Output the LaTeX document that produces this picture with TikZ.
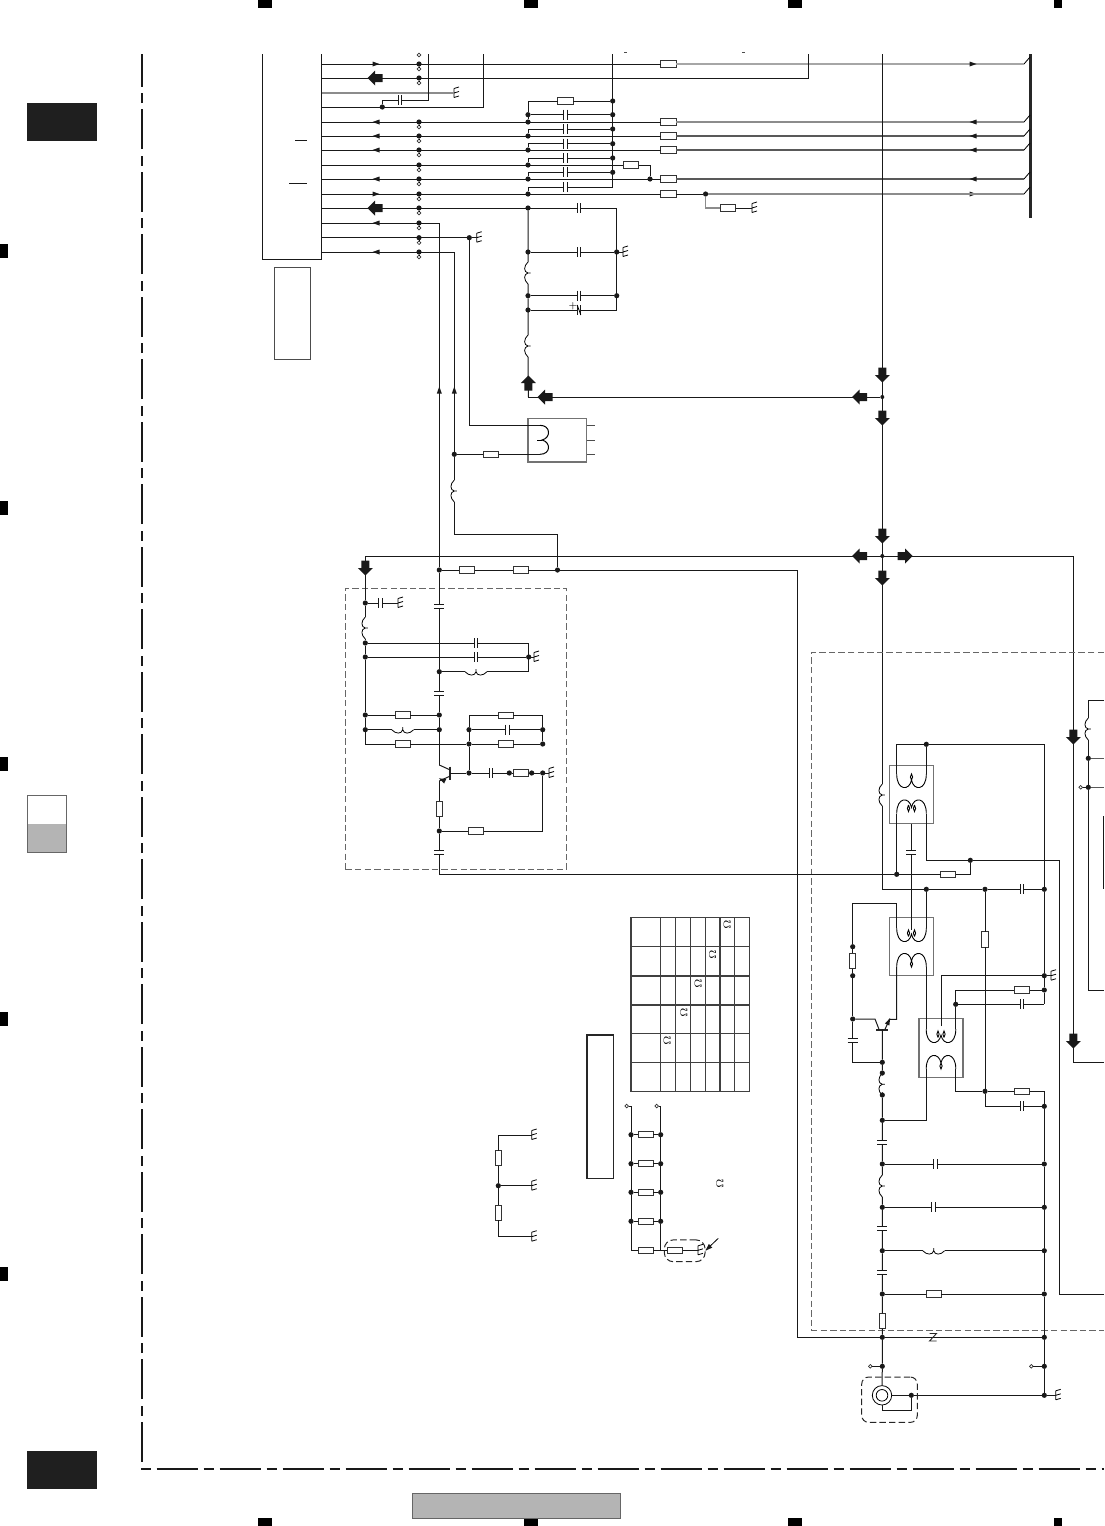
\documentclass[tikz,border=0pt]{standalone}
\definecolor{tabgray}{HTML}{B4B4B4}
\tikzset{
  wire/.style = {line width=0.5pt, black!90},
  paleA/.style = {line width=1pt, black!35},
  paleB/.style = {line width=0.7pt, black!45},
  paleC/.style = {line width=0.55pt, black!65},
  junc/.style = {circle, fill=black!90, inner sep=0, outer sep=0, minimum size=2.6pt},
  hole/.style = {circle, draw=black!80, fill=white, line width=0.35pt, inner sep=0, outer sep=0, minimum size=1.8pt},
  rbox/.style = {rectangle, draw=black!80, fill=white, line width=0.45pt, inner sep=0, outer sep=0, minimum width=7.6pt, minimum height=3.2pt},
  rboxv/.style = {rbox, minimum width=3.2pt, minimum height=7.6pt},
  capx/.style = {rectangle, inner sep=0, outer sep=0, minimum width=1.8pt, minimum height=5pt,
    append after command={(\tikzlastnode.north west) edge[wire] (\tikzlastnode.south west)
      (\tikzlastnode.north east) edge[wire] (\tikzlastnode.south east)}},
  capy/.style = {rectangle, inner sep=0, outer sep=0, minimum width=5pt, minimum height=1.8pt,
    append after command={(\tikzlastnode.north west) edge[wire] (\tikzlastnode.north east)
      (\tikzlastnode.south west) edge[wire] (\tikzlastnode.south east)}},
  indy/.style = {rectangle, inner sep=0, outer sep=0, minimum width=6pt, minimum height=11pt,
    path picture={\begin{scope}[shift={(path picture bounding box.center)}]
      \draw[line width=0.4pt] (0,-11) .. controls (-4.5,-7) and (-4.5,-1) .. (0,0) .. controls (-4.5,1) and (-4.5,7) .. (0,11) (-1,0) -- (2.5,0);
    \end{scope}}},
  indx/.style = {rectangle, inner sep=0, outer sep=0, minimum width=11pt, minimum height=6pt,
    path picture={\begin{scope}[shift={(path picture bounding box.center)}]
      \draw[line width=0.4pt] (-11,0) .. controls (-7,4.5) and (-1,4.5) .. (0,0) .. controls (1,4.5) and (7,4.5) .. (11,0) (0,1) -- (0,-2.5);
    \end{scope}}},
  tbox/.style = {rectangle, draw=black!55, line width=0.6pt, inner sep=0, outer sep=0, minimum width=22pt, minimum height=29.2pt},
  dbox/.style = {rectangle, draw=black!60, line width=0.5pt, dash pattern=on 3.2pt off 1.6pt, inner sep=0, outer sep=0},
  ohm/.style = {inner sep=0, outer sep=0, font=\fontsize{4.5}{5}\selectfont},
  gnd/.pic = {\draw[line width=0.4pt] (0,-4.5) -- (0,4.5) (0,-4.5) -- (5,-6) (0,0) -- (5,-1.5) (0,4.5) -- (5,3);},
  tip/.pic = {\fill[black!90] (3.5,0) -- (-3.5,-2.5) -- (-3.5,2.5) -- cycle;},
  bigarr/.pic = {\fill[black!90] (7.5,0) -- (0,7.5) -- (0,4) -- (-7.5,4) -- (-7.5,-4) -- (0,-4) -- (0,-7.5) -- cycle;},
  coila/.pic = {\draw[line width=0.45pt] (-14.8,0) .. controls (-14.8,17) and (-2,17) .. (0,6) .. controls (2,17) and (14.8,17) .. (14.8,0)
    (0,6) .. controls (-1.5,4) and (-1.5,2) .. (0,0) .. controls (1.5,2) and (1.5,4) .. (0,6);},
  coilb/.pic = {\draw[line width=0.45pt] (-14.8,0) .. controls (-14.8,17) and (-2,17) .. (0,6) .. controls (2,17) and (14.8,17) .. (14.8,0)
    (-3,8.5) .. controls (-4.5,6) and (-4.5,4) .. (-3,2) .. controls (-1.5,4) and (-1.5,6) .. (-3,8.5)
    (3,8.5) .. controls (1.5,6) and (1.5,4) .. (3,2) .. controls (4.5,4) and (4.5,6) .. (3,8.5);},
}
\begin{document}
\begin{tikzpicture}[x=0.5pt,y=-0.5pt]
    \useasboundingbox (0,0) rectangle (1104,1526);

    % page furniture
    \foreach \x/\w in {258/14,524/14,788/14,1054/8}{
        \fill (\x,0) rectangle +(\w,8);
        \fill (\x,1518) rectangle +(\w,8);
    }
    \foreach \y in {244,501,757,1012,1267}{
        \fill (0,\y) rectangle +(8,14);
    }
    \fill[black!88] (27,103) rectangle (97,141);
    \fill[black!88] (27,1451) rectangle (97,1489);
    \fill[tabgray] (27,824) rectangle (66,852);
    \draw[black!60, line width=0.5pt] (27,795) rectangle (66,852);
    \draw[black!60, fill=tabgray, line width=0.5pt] (412,1493) rectangle (620,1518);
    \draw[line width=0.8pt, black!90, dash pattern=on 20pt off 3pt on 5pt off 3.25pt] (142,1461.7) -- (142,54);
    \draw[line width=0.8pt, black!90, dash pattern=on 20.5pt off 3pt on 5pt off 3pt] (156.7,1469) -- (1104,1469);
    \draw[line width=0.8pt, black!90] (141,1469) -- (151,1469);

    % connector block
    \draw[wire] (262.5,54) -- (262.5,259.5) -- (321.5,259.5) -- (321.5,54);
    \draw[wire, black!70] (274.5,267.7) rectangle (310.7,359.3);
    \draw[wire] (295,140) -- (307,140);
    \draw[wire] (289,183) -- (307,183);
    \draw[line width=1.5pt, black!85] (1030,54) -- (1030,218);
    \node[hole] (htop) at (419,55) {};
    \fill[black!70] (624,52) rectangle +(3,1);
    \fill[black!70] (742,52) rectangle +(3,1);

    % signal rows
    \foreach \n/\y in {a/64,b/78,e/122,f/136,g/150,h/165,i/179,j/194,k/208,l/223,m/237.7,n/252}{
        \node[junc] (j\n) at (419,\y) {};
        \node[hole] (h\n) at (419,\y+5) {};
        \draw[line width=0.4pt] (j\n) -- (h\n);
    }
    \foreach \n/\y in {a/64,b/78,c/93,d/107,e/122,f/136,g/150,h/165,i/179,j/194,k/208,l/223,m/237.7,n/252}{
        \coordinate (s\n) at (321.5,\y);
    }
    \foreach \n/\y in {a/64,e/122,f/136,g/150,i/179,j/194}{
        \node[rbox] (r\n) at (668.5,\y) {};
        \coordinate (q\n) at (1024,\y);
        \coordinate (b\n) at (1030,\y-7);
        \draw[wire] (s\n) -- (r\n);
        \draw[line width=0.4pt] (q\n) -- (b\n);
    }
    \draw[paleA] (ra) -- (qa);
    \draw[paleB] (re) -- (qe);
    \draw[paleC] (rf) -- (qf);
    \draw[paleC] (rg) -- (qg);
    \draw[paleC] (ri) -- (qi);

    \foreach \x/\y/\a in {376/64/0,376/122/180,376/136/180,376/150/180,376/179/180,376/194/0,376/223/180,376/252/180,
        973/64/0,973/122/180,973/136/180,973/150/180,973/179/180,973/194/0,439.3/390/90,454.3/390/90}{
        \pic[rotate=\a] at (\x,\y) {tip};
    }

    % grounds
    \foreach \n/\x/\y in {1/454/93,2/476.7/237.7,3/752/208,4/623/252,5/398/603,6/534/657,7/549/773,8/1051/975.7,9/1055.7/1395.3,
        10/531.7/1135,11/531.7/1185.7,12/531.7/1236.7,13/698/1250.3}{
        \coordinate (g\n) at (\x,\y);
        \pic at (g\n) {gnd};
    }

    % rows b, c, d
    \coordinate (bc) at (808,78);
    \coordinate (bt) at (808,54);
    \draw[wire] (sb) -- (bc) -- (bt);
    \draw[paleB] (sc) -- (g1);
    \node[junc] (dd) at (382.3,107) {};
    \node[capx] (cd) at (400,100.3) {};
    \coordinate (de) at (483,107);
    \coordinate (dt) at (483,54);
    \coordinate (dc) at (428.3,100.3);
    \coordinate (du) at (428.3,54);
    \draw[wire] (sd) -- (de) -- (dt);
    \draw[wire] (dd) |- (cd);
    \draw[wire] (cd) -- (dc) -- (du);

    % rows h and j extras
    \node[rbox] (rh) at (631,165) {};
    \node[junc] (jhi) at (650,179) {};
    \draw[wire] (sh) -- (rh);
    \draw[wire] (rh) -| (jhi);
    \node[junc] (jj2) at (705.6,194) {};
    \node[rbox] (rj2) at (728,208) {};
    \draw[wire] (rj) -- (jj2);
    \draw[paleB] (jj2) -- (qj);
    \draw[paleB] (jj2) |- (rj2);
    \draw[wire] (rj2) -- (g3);

    % capacitor ladder
    \coordinate (lt) at (612.7,54);
    \coordinate (lb) at (612.7,187);
    \coordinate (ltl) at (528,101);
    \node[rbox] (r0) at (565.5,101) {};
    \node[junc] (rr0) at (612.7,101) {};
    \node[capx] (c0) at (565.5,114.7) {};
    \node[junc] (lc0) at (528,114.7) {};
    \node[junc] (rc0) at (612.7,114.7) {};
    \node[junc] (le) at (528,122) {};
    \draw[wire] (le) -- (lc0) -- (ltl) -- (r0) -- (rr0);
    \draw[wire] (lc0) -- (c0) -- (rc0);
    \draw[wire] (lt) -- (lb);
    \foreach \n/\y/\c in {f/136/129,g/150/143.7,h/165/158,i/179/172.3}{
        \node[junc] (l\n) at (528,\y) {};
        \node[capx] (c\n) at (565.5,\c) {};
        \node[junc] (rc\n) at (612.7,\c) {};
        \draw[wire] (l\n) |- (c\n);
        \draw[wire] (c\n) -- (rc\n);
    }
    \node[junc] (lj) at (528,194) {};
    \node[capx] (cj) at (565.5,187) {};
    \draw[wire] (lj) |- (cj);
    \draw[wire] (cj) -- (lb);

    % filter below the ladder
    \node[junc] (lk) at (528,208) {};
    \node[capx] (ck) at (579,208) {};
    \coordinate (ke) at (616.7,208);
    \node[junc] (l252) at (528,252) {};
    \node[capx] (c252) at (579,252) {};
    \node[junc] (r252) at (616.7,252) {};
    \node[indy] (l1) at (528,273) {};
    \node[junc] (l296) at (528,295.7) {};
    \node[capx] (c296) at (579,295.7) {};
    \node[junc] (r296) at (616.7,295.7) {};
    \node[junc] (l310) at (528,310) {};
    \node[capx] (c310) at (579,310) {};
    \coordinate (r310) at (616.7,310);
    \node[indy] (l2) at (528,346) {};
    \coordinate (lc) at (528.3,397);
    \node[ohm] (plus) at (573,306) {+};
    \draw[line width=0.4pt] (c310.north west) -- (c310.south east);
    \draw[wire] (sk) -- (ck);
    \draw[wire] (ck) -- (ke) -- (r310) -- (c310);
    \draw[wire] (l310) -- (c310);
    \draw[wire] (l252) -- (c252) -- (r252) -- (g4);
    \draw[wire] (l296) -- (c296) -- (r296);
    \draw[wire] (lk) -- (l1) -- (l296) -- (l2) -- (lc);

    % main supply column
    \coordinate (mt) at (882.3,54);
    \node[junc, minimum size=2pt] (m397) at (882.3,397) {};
    \node[junc, minimum size=2pt] (m556) at (882.3,556) {};
    \node[indy] (m795) at (882.3,795) {};
    \coordinate (m889) at (882.3,889.3);
    \draw[wire] (mt) -- (m397) -- (m556) -- (m795) -- (m889);
    \draw[wire] (lc) -- (m397);
    \coordinate (w556) at (365.3,556);
    \coordinate (e556) at (1073.3,556);
    \coordinate (e1062) at (1073.3,1062.3);
    \coordinate (x1062) at (1104,1062.3);
    \draw[wire] (w556) -- (e556) -- (e1062) -- (x1062);
    \foreach \x/\y/\a in {882.3/375/-90,882.3/418/-90,882.3/536/-90,882.3/578/-90,859.5/397/180,859.5/556/180,
        905/556/0,545/397/180,528.3/383/90,365.3/568/-90,375/78/180,375/208/180,1073.3/737/-90,1073.3/1041/-90}{
        \pic[rotate=\a] at (\x,\y) {bigarr};
    }

    % rows l, m, n running down
    \coordinate (cl) at (439.3,223);
    \node[junc] (j570) at (439.3,570) {};
    \draw[wire] (sl) -- (cl) -- (j570);
    \node[junc] (jm) at (469.3,237.7) {};
    \draw[wire] (sm) -- (jm) -- (g2);
    \node[tbox, minimum width=29.4pt, minimum height=21.7pt] (t0) at (557.3,440.3) {};
    \coordinate (t0a) at (469.3,425.3);
    \coordinate (t0b) at (540,425.3);
    \coordinate (t0c) at (540,454.3);
    \draw[wire] (jm) -- (t0a) -- (t0b);
    \coordinate (cn) at (454.3,252);
    \node[junc] (jn) at (454.3,454.3) {};
    \node[rbox] (rn) at (491,454.3) {};
    \node[indy] (ln) at (454.3,491) {};
    \coordinate (n533) at (454.3,534);
    \node[junc] (j557) at (557.5,570) {};
    \draw[wire] (sn) -- (cn) -- (jn) -- (ln) -- (n533);
    \draw[wire] (n533) -| (j557);
    \draw[wire] (jn) -- (rn) -- (t0c);
    \draw[line width=0.5pt] (t0b) .. controls (551,425.3) and (551,438) .. (542,440) .. controls (551,442) and (551,454.3) .. (t0c);
    \draw[line width=0.4pt] (537,440) -- (542,440);
    \foreach \y in {425.7,440,454.7}{
        \draw[line width=0.4pt, black!70] (586.7,\y) -- (595,\y);
    }

    % line y=570
    \node[rbox] (r570a) at (467,570) {};
    \node[rbox] (r570b) at (520.7,570) {};
    \coordinate (c570) at (797.3,570);
    \coordinate (c1337) at (797.3,1337.3);
    \draw[wire] (j570) -- (r570a) -- (r570b) -- (j557) -- (c570) -- (c1337);

    % amplifier stage, dashed block
    \node[dbox, minimum width=110.7pt, minimum height=140.4pt] (blk1) at (456,728.7) {};
    \node[junc] (a603) at (365.3,603) {};
    \node[capx] (ca603) at (380.7,603) {};
    \node[indy] (la) at (365.3,628) {};
    \node[junc] (a643) at (365.3,643) {};
    \node[junc] (a657) at (365.3,657) {};
    \node[junc] (a715) at (365.3,715) {};
    \node[junc] (a730) at (365.3,729.7) {};
    \coordinate (a744) at (365.3,744);
    \draw[wire] (w556) -- (a603) -- (la) -- (a643) -- (a657) -- (a715) -- (a730) -- (a744);
    \draw[wire] (a603) -- (ca603) -- (g5);
    \node[capx] (c643) at (476,643) {};
    \node[capx] (c657) at (476,657) {};
    \node[indx] (l672) at (476,671.7) {};
    \coordinate (b643) at (528.7,643);
    \node[junc] (b657) at (528.7,657) {};
    \coordinate (b672) at (528.7,671.7);
    \node[capy] (c607) at (439.3,606.7) {};
    \node[junc] (b1) at (439.3,671.7) {};
    \node[capy] (c693) at (439.3,693.3) {};
    \node[junc] (b2) at (439.3,715) {};
    \node[junc] (b3) at (439.3,729.7) {};
    \coordinate (qc) at (439.3,765);
    \draw[wire] (j570) -- (c607) -- (b1) -- (c693) -- (b2) -- (b3) -- (qc);
    \draw[wire] (a643) -- (c643) -- (b643) -- (b672) -- (l672) -- (b1);
    \draw[wire] (a657) -- (c657) -- (b657) -- (g6);
    \node[rbox] (r715) at (402.7,715) {};
    \node[indx] (l730) at (402.7,729.7) {};
    \node[rbox] (r744) at (402.7,744) {};
    \draw[wire] (a715) -- (r715) -- (b2);
    \draw[wire] (a730) -- (l730) -- (b3);
    \node[junc] (d715) at (469,729.7) {};
    \node[capx] (c730) at (507.7,729.7) {};
    \node[junc] (e730) at (542.7,729.7) {};
    \node[junc] (d744) at (469,744) {};
    \node[junc] (e744) at (542.7,744) {};
    \node[rbox] (r744b) at (505.7,744) {};
    \node[rbox] (r716) at (505.7,715.3) {};
    \coordinate (d716) at (469,715.3);
    \coordinate (e716) at (542.7,715.3);
    \draw[wire] (a744) -- (r744) -- (d744) -- (r744b) -- (e744);
    \draw[wire] (d715) -- (c730) -- (e730);
    \draw[wire] (r716) -- (d716) -- (d715) -- (d744);
    \draw[wire] (r716) -- (e716) -- (e730) -- (e744);
    \node[junc] (d773) at (469,773) {};
    \node[capx] (c773) at (491,773) {};
    \node[junc] (f1) at (509.3,773) {};
    \node[rbox] (r773) at (521,773) {};
    \node[junc] (f2) at (531.7,773) {};
    \node[junc] (e773) at (542.7,773) {};
    \coordinate (qb) at (450.3,773);
    \coordinate (qe) at (439.3,781);
    \coordinate (qe2) at (450.3,776);
    \coordinate (qc2) at (450.3,770);
    \draw[line width=1pt, black!85] (450.3,766.7) -- (450.3,780);
    \draw[wire] (qc) -- (qc2);
    \draw[wire] (qb) -- (d773) -- (d744);
    \draw[wire] (d773) -- (c773) -- (f1) -- (r773) -- (f2) -- (e773) -- (g7);
    \draw[wire] (qe2) -- (qe);
    \pic[rotate=155] at (442,779.8) {tip};
    \node[rboxv] (r809) at (439.3,809) {};
    \node[junc] (b831) at (439.3,831) {};
    \node[rbox] (r831) at (476,831) {};
    \coordinate (e831) at (542.7,831);
    \node[capy] (c852) at (439.3,852.3) {};
    \coordinate (b874) at (439.3,874.3);
    \draw[wire] (qe) -- (r809) -- (b831) -- (c852) -- (b874);
    \draw[wire] (b831) -- (r831) -- (e831) -- (e773);

    % transformer stage, dashed block
    \coordinate (blkA) at (1104,652);
    \coordinate (blkB) at (811.7,652);
    \coordinate (blkC) at (811.7,1330);
    \coordinate (blkD) at (1104,1330);
    \draw[line width=0.5pt, black!60, dash pattern=on 3.2pt off 1.6pt] (blkA) -- (blkB) -- (blkC) -- (blkD);
    \node[tbox] (t1) at (911.3,794.5) {};
    \node[tbox] (t2) at (911.3,946.5) {};
    \node[tbox] (t3) at (940.9,1048) {};
    \pic at (911.5,774) {coila};
    \pic[yscale=-1] at (911.5,813.5) {coilb};
    \pic at (911.5,928) {coilb};
    \pic[yscale=-1] at (911.5,967) {coila};
    \pic at (941,1029) {coilb};
    \pic[yscale=-1] at (941,1069) {coila};
    \coordinate (t1ul) at (896.7,774);
    \coordinate (t1ur) at (926.3,774);
    \coordinate (t1ll) at (896.7,813.5);
    \coordinate (t1lr) at (926.3,813.5);
    \coordinate (t2ul) at (896.7,928);
    \coordinate (t2ur) at (926.3,928);
    \coordinate (t2um) at (911.3,930);
    \coordinate (t2ll) at (896.7,967);
    \coordinate (t2lr) at (926.3,967);
    \coordinate (t3ul) at (926.3,1029);
    \coordinate (t3ur) at (955.7,1029);
    \coordinate (t3um) at (941,1026);
    \coordinate (t3ll) at (926.3,1069);
    \coordinate (t3lr) at (955.7,1069);

    \coordinate (n744) at (896.7,744.3);
    \node[junc] (j744) at (926.3,744.3) {};
    \coordinate (p744) at (1044.3,744.3);
    \node[junc] (p889) at (1044.3,889.3) {};
    \node[junc] (p976) at (1044.3,975.7) {};
    \node[junc] (p990) at (1044.3,990) {};
    \coordinate (p1004) at (1044.3,1004.3);
    \draw[wire] (t1ul) -- (n744) -- (j744) -- (p744) -- (p889) -- (p976) -- (p990) -- (p1004);
    \draw[wire] (t1ur) -- (j744);
    \node[junc] (j874) at (896.7,874.3) {};
    \node[rbox] (r874) at (948.3,874.3) {};
    \node[junc] (j970) at (970.3,860.3) {};
    \coordinate (j970b) at (970.3,874.3);
    \coordinate (c860) at (926.3,860.3);
    \coordinate (e860) at (1059.7,860.3);
    \coordinate (e1294) at (1059.7,1294.3);
    \coordinate (x1294) at (1104,1294.3);
    \draw[wire] (t1ll) -- (j874);
    \draw[wire] (t1lr) -- (c860) -- (j970) -- (e860) -- (e1294) -- (x1294);
    \draw[wire] (j970) -- (j970b) -- (r874) -- (j874) -- (b874);
    \node[capy] (c852b) at (911.3,852.3) {};
    \draw[wire] (t1.south) -- (c852b) -- (t2um);

    \node[junc] (k926) at (926.3,889.3) {};
    \node[junc] (k985) at (985,889.3) {};
    \node[capx] (c889) at (1022,889.3) {};
    \draw[wire] (m889) -- (k926) -- (k985) -- (c889) -- (p889);
    \draw[wire] (t2ur) -- (k926);
    \coordinate (u903) at (896.7,903.3);
    \coordinate (v903) at (852.7,903.3);
    \node[junc] (v947) at (852.7,946.7) {};
    \node[rboxv] (r961) at (852.7,961) {};
    \node[junc] (v976) at (852.7,975.7) {};
    \node[junc] (v1019) at (852.7,1019) {};
    \node[capy] (c1041) at (852.7,1040.7) {};
    \coordinate (v1062) at (852.7,1062.3);
    \node[junc] (w1062) at (882.3,1062.3) {};
    \draw[wire] (t2ul) -- (u903) -- (v903) -- (v947) -- (r961) -- (v976) -- (v1019) -- (c1041) -- (v1062) -- (w1062);

    % output transistor
    \coordinate (q2c) at (875,1019);
    \coordinate (q2c2) at (879,1029.3);
    \coordinate (q2e) at (885,1029.3);
    \coordinate (q2e2) at (889.5,1019.3);
    \coordinate (q2b) at (882.3,1029.3);
    \coordinate (u1019) at (896.7,1019.3);
    \draw[line width=1pt, black!85] (876,1029.6) -- (888.3,1029.6);
    \draw[wire] (v1019) -- (q2c) -- (q2c2);
    \draw[wire] (q2e) -- (q2e2) -- (u1019) -- (t2ll);
    \pic[rotate=65] at (888.6,1021.3) {tip};

    \draw[wire] (t2lr) -- (t3ul);
    \coordinate (n976) at (941,975.7);
    \draw[wire] (t3um) -- (n976) -- (p976) -- (g8);
    \coordinate (n990) at (955.7,990);
    \node[junc] (n1004) at (955.7,1004.3) {};
    \node[rbox] (r990) at (1022,990) {};
    \node[capx] (c1004) at (1022,1004.3) {};
    \draw[wire] (t3ur) -- (n1004) -- (n990) -- (r990) -- (p990);
    \draw[wire] (n1004) -- (c1004) -- (p1004);
    \coordinate (n1091) at (955.7,1091.3);
    \node[junc] (k1091) at (985,1091.3) {};
    \node[rbox] (r1091) at (1022,1091.3) {};
    \coordinate (p1091) at (1044.3,1091.3);
    \node[rboxv] (r939) at (985,939.5) {};
    \coordinate (k1106) at (985,1106.3);
    \node[capx] (c1106) at (1022,1106.3) {};
    \node[junc] (p1106) at (1044.3,1106.3) {};
    \draw[wire] (t3lr) -- (n1091) -- (k1091) -- (r1091) -- (p1091) -- (p1106);
    \draw[wire] (k985) -- (r939) -- (k1091) -- (k1106) -- (c1106) -- (p1106);
    \coordinate (n1120) at (926.3,1120.3);
    \node[junc] (w1120) at (882.3,1120.3) {};
    \draw[wire] (t3ll) -- (n1120) -- (w1120);

    % ladder to the jack
    \node[junc] (w1073) at (882.3,1073) {};
    \node[indy, minimum height=9pt] (l1085) at (882.3,1084.3) {};
    \node[junc] (w1095) at (882.3,1095) {};
    \node[capy] (c1142) at (882.3,1142.3) {};
    \node[junc] (w1164) at (882.3,1164) {};
    \node[indy] (l1186) at (882.3,1186) {};
    \node[junc] (w1207) at (882.3,1207.3) {};
    \node[capy] (c1228) at (882.3,1228.3) {};
    \node[junc] (w1251) at (882.3,1250.7) {};
    \node[capy] (c1272) at (882.3,1272.3) {};
    \node[junc] (w1294) at (882.3,1294) {};
    \node[rboxv] (r1321) at (882.3,1321) {};
    \node[junc] (w1337) at (882.3,1337.3) {};
    \node[junc] (w1366) at (882.3,1366.3) {};
    \node[hole] (h1366) at (870.3,1366.3) {};
    \node[circle, draw, line width=0.4pt, inner sep=0, outer sep=0, minimum size=9.7pt] (jack) at (882,1395.3) {};
    \node[circle, draw, line width=0.4pt, inner sep=0, outer sep=0, minimum size=5.8pt] (jackin) at (882,1395.3) {};
    \draw[wire] (q2b) -- (w1062) -- (w1073) -- (l1085) -- (w1095) -- (w1120) -- (c1142) -- (w1164) -- (l1186) -- (w1207) -- (c1228) -- (w1251) -- (c1272) -- (w1294) -- (r1321) -- (w1337) -- (w1366) -- (jack);
    \draw[wire] (w1366) -- (h1366);
    \node[junc] (p1164) at (1044.3,1164) {};
    \node[junc] (p1207) at (1044.3,1207.3) {};
    \node[junc] (p1251) at (1044.3,1250.7) {};
    \node[junc] (p1294) at (1044.3,1294) {};
    \node[junc] (p1337) at (1044.3,1337.3) {};
    \node[junc] (p1366) at (1044.3,1366.3) {};
    \node[junc] (p1395) at (1044.3,1395.3) {};
    \node[hole] (h1366b) at (1031.3,1366.3) {};
    \node[capx] (c1164) at (935.3,1164) {};
    \node[capx] (c1207) at (933.7,1207.3) {};
    \node[indx] (l1251) at (933.7,1250.7) {};
    \node[rbox] (r1294) at (933.7,1294) {};
    \draw[wire] (w1164) -- (c1164) -- (p1164);
    \draw[wire] (w1207) -- (c1207) -- (p1207);
    \draw[wire] (w1251) -- (l1251) -- (p1251);
    \draw[wire] (w1294) -- (r1294) -- (p1294);
    \draw[wire] (c1337) -- (w1337) -- (p1337);
    \draw[line width=0.45pt, black!85] (929.5,1333.5) -- (936.5,1333.5) -- (929.5,1341) -- (936.5,1341);
    \draw[wire] (p1106) -- (p1164) -- (p1207) -- (p1251) -- (p1294) -- (p1337) -- (p1366) -- (p1395) -- (g9);
    \draw[wire] (p1366) -- (h1366b);
    \node[junc] (j911) at (911.3,1395.3) {};
    \coordinate (jb) at (882,1410.7);
    \coordinate (jc) at (911.3,1410.7);
    \draw[wire] (jack) -- (j911) -- (p1395);
    \draw[wire] (jack) -- (jb) -- (jc) -- (j911);
    \node[dbox, draw=black!85, rounded corners=3.5pt, minimum width=27.8pt, minimum height=22.7pt] (jackbox) at (889.5,1399.7) {};

    % right edge
    \coordinate (y700) at (1088.3,700);
    \coordinate (x700) at (1104,700);
    \node[indy] (l729) at (1088.3,729) {};
    \node[junc] (y758) at (1088.3,758.3) {};
    \node[junc] (y787) at (1088.3,787.3) {};
    \node[hole] (h787) at (1080.7,787.3) {};
    \coordinate (y990) at (1088.3,990.5);
    \coordinate (x990) at (1104,990.5);
    \coordinate (x758) at (1104,758.3);
    \coordinate (x787) at (1104,787.3);
    \draw[wire] (x700) -- (y700) -- (l729) -- (y758) -- (y787) -- (y990) -- (x990);
    \draw[paleC] (y758) -- (x758);
    \draw[paleC] (y787) -- (x787);
    \draw[wire] (y787) -- (h787);
    \draw[wire] (1103.3,816) -- (1103.3,889.3);

    % value table
    \draw[line width=0.55pt, black!75] (631,917.7) rectangle (749.3,1091.3);
    \foreach \x in {660.7,675.3,690.3,705.3,720,734.7}{
        \draw[line width=0.55pt, black!75] (\x,917.7) -- (\x,1091.3);
    }
    \foreach \y in {946.7,976,1005,1033.3,1062.3}{
        \draw[line width=0.55pt, black!75] (631,\y) -- (749.3,\y);
    }
    \foreach \n/\x/\y in {1/727.3/925,2/712.7/954.3,3/698.3/983.3,4/684/1012.7,5/667.3/1041,6/720/1183.3}{
        \node[ohm, rotate=90] (om\n) at (\x,\y) {$\Omega$};
    }
    \node[rectangle, draw=black!85, line width=0.8pt, inner sep=0, minimum width=13.3pt, minimum height=71.6pt] (note) at (600,1106.7) {};

    % resistor ladder
    \coordinate (lad1) at (631,1106);
    \coordinate (lad2) at (660.7,1106);
    \node[hole] (ho1) at (626.7,1106) {};
    \node[hole] (ho2) at (656.7,1106) {};
    \draw[wire] (ho1) -- (lad1);
    \draw[wire] (ho2) -- (lad2);
    \foreach \n/\y in {1/1134.7,2/1163.7,3/1192.3,4/1221.3}{
        \node[junc] (la\n) at (631,\y) {};
        \node[junc] (lb\n) at (660.7,\y) {};
        \node[rbox] (lr\n) at (645.7,\y) {};
        \draw[wire] (la\n) -- (lr\n) -- (lb\n);
    }
    \coordinate (la5) at (631,1250.3);
    \coordinate (lb5) at (660.7,1250.3);
    \node[rbox] (lr5) at (645.7,1250.3) {};
    \node[rbox] (lr6) at (675,1250.3) {};
    \draw[wire] (lad1) -- (la1) -- (la2) -- (la3) -- (la4) -- (la5) -- (lr5) -- (lb5);
    \draw[wire] (lad2) -- (lb1) -- (lb2) -- (lb3) -- (lb4) -- (lb5) -- (lr6) -- (g13);
    \node[dbox, draw=black!85, rounded corners=4.5pt, minimum width=20.4pt, minimum height=10.9pt] (lbox) at (684.7,1250.8) {};
    \coordinate (lbt) at (718.3,1238.3);
    \coordinate (lbh) at (706,1250);
    \draw[line width=0.4pt] (lbt) -- (lbh);
    \pic[rotate=223] at (708,1248.2) {tip};

    % small divider
    \coordinate (x1135) at (498.3,1135);
    \coordinate (x1237) at (498.3,1236.7);
    \node[junc] (x1186) at (498.3,1185.7) {};
    \node[rboxv] (r1158) at (498.3,1158.3) {};
    \node[rboxv] (r1213) at (498.3,1212.7) {};
    \draw[wire] (g10) -- (x1135) -- (r1158) -- (x1186) -- (r1213) -- (x1237) -- (g12);
    \draw[wire] (x1186) -- (g11);
\end{tikzpicture}
\end{document}
